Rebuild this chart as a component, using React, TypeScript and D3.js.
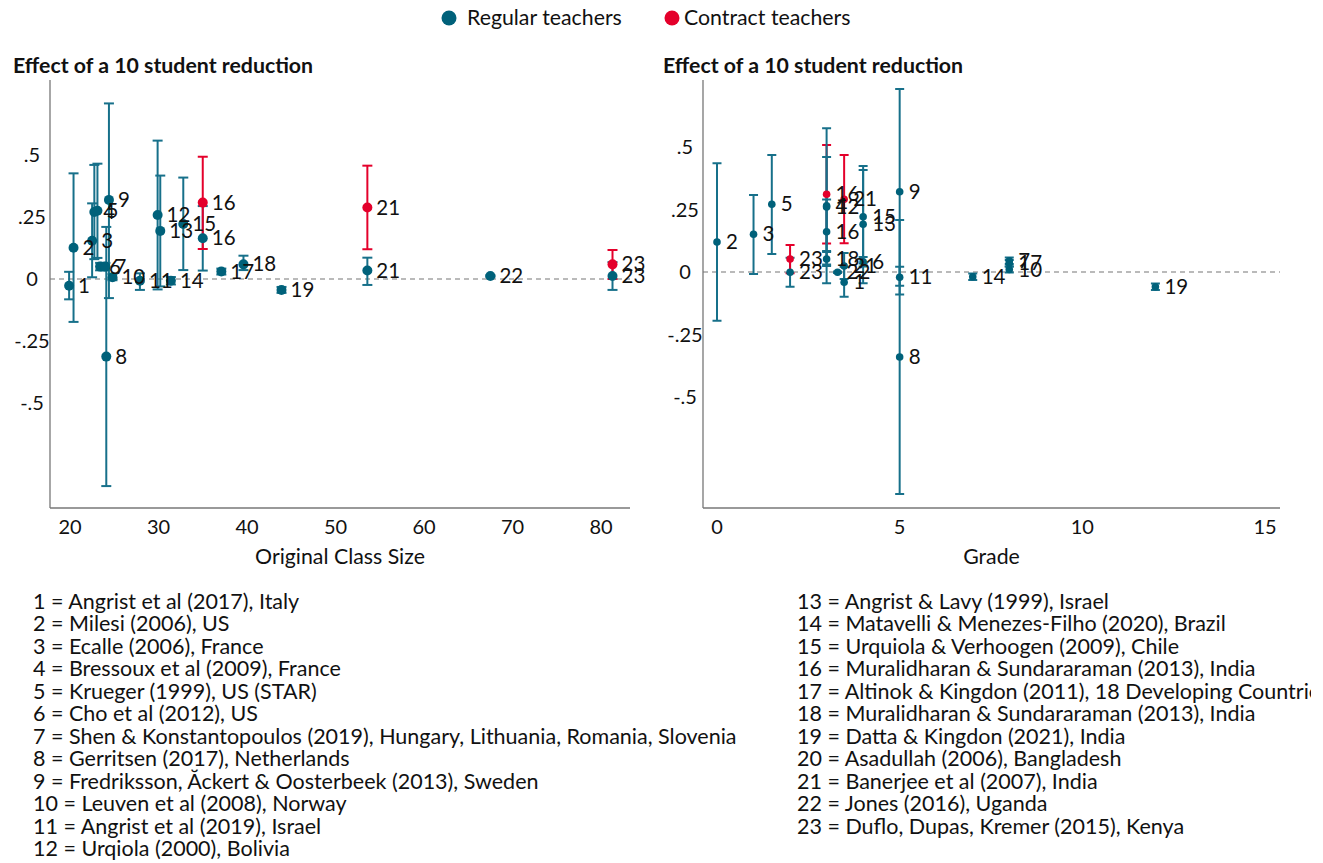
import React from "react";
import * as d3 from "d3";

// ---------- DATA ----------
// Left panel: effect vs original class size
const leftIds = ["1","2","3","4","5","6","7","8","9","10","11","12","13","14","15","16","16","17","18","19","21","21","22","23","23"];
const leftX = [19.9,20.4,22.5,22.75,23.1,23.4,24.0,24.1,24.4,24.8,27.9,29.9,30.2,31.4,32.8,35.0,35.0,37.1,39.6,43.9,53.6,53.6,67.5,81.3,81.3];
const leftY = [-0.027,0.126,0.154,0.27,0.275,0.05,0.05,-0.313,0.319,0.007,-0.007,0.258,0.194,-0.007,0.222,0.164,0.308,0.03,0.059,-0.044,0.034,0.288,0.012,0.012,0.059];
const leftLo = [-0.082,-0.173,0.007,0.08,0.085,0.035,0.035,-0.835,-0.077,-0.005,-0.044,-0.042,-0.03,-0.022,0.036,0.034,0.121,0.018,0.036,-0.056,-0.024,0.12,0.009,-0.044,0.0];
const leftHi = [0.029,0.426,0.305,0.46,0.465,0.065,0.065,0.21,0.708,0.02,0.023,0.558,0.417,0.008,0.409,0.294,0.493,0.042,0.094,-0.032,0.086,0.457,0.015,0.068,0.117];
const leftContract = [0,0,0,0,0,0,0,0,0,0,0,0,0,0,0,0,1,0,0,0,0,1,0,0,1];

// Right panel: effect vs grade
const rightIds = ["2","3","5","23","23","16","4","12","16","18","22","1","21","21","6","15","13","9","8","11","14","7","17","10","19"];
const rightX = [0,1,1.5,2,2,3,3,3,3,3,3.3,3.48,3.48,3.48,4.0,4.0,4.0,5,5,5,7,8,8,8,12];
const rightY = [0.12,0.151,0.271,-0.001,0.052,0.311,0.265,0.26,0.161,0.052,-0.001,-0.041,0.024,0.291,0.041,0.221,0.191,0.321,-0.34,-0.021,-0.019,0.045,0.035,0.01,-0.059];
const rightLo = [-0.195,-0.008,0.072,-0.059,-0.005,0.114,0.08,-0.045,0.03,0.024,-0.004,-0.099,-0.028,0.115,0.022,0.034,-0.045,-0.09,-0.888,-0.055,-0.032,0.032,0.022,-0.002,-0.072];
const rightHi = [0.435,0.308,0.468,0.057,0.108,0.508,0.46,0.575,0.29,0.084,0.002,0.021,0.076,0.468,0.06,0.408,0.424,0.732,0.208,0.021,-0.006,0.058,0.048,0.022,-0.046];
const rightContract = [0,0,0,0,1,1,0,0,0,0,0,0,0,1,0,0,0,0,0,0,0,0,0,0,0];

const yTickValues = [0.5, 0.25, 0, -0.25, -0.5];
const yTickLabels = [".5", ".25", "0", "-.25", "-.5"];
const leftXTicks = [20, 30, 40, 50, 60, 70, 80];
const rightXTicks = [0, 5, 10, 15];

const legendLabels = ["Regular teachers", "Contract teachers"];
const panelTitle = "Effect of a 10 student reduction";
const leftXTitle = "Original Class Size";
const rightXTitle = "Grade";

const notesLeft = [
  "1 = Angrist et al (2017), Italy",
  "2 = Milesi (2006), US",
  "3 = Ecalle (2006), France",
  "4 = Bressoux et al (2009), France",
  "5 = Krueger (1999), US (STAR)",
  "6 = Cho et al (2012), US",
  "7 = Shen & Konstantopoulos (2019), Hungary, Lithuania, Romania, Slovenia",
  "8 = Gerritsen (2017), Netherlands",
  "9 = Fredriksson, Ăckert & Oosterbeek (2013), Sweden",
  "10 = Leuven et al (2008), Norway",
  "11 = Angrist et al (2019), Israel",
  "12 = Urqiola (2000), Bolivia",
];
const notesRight = [
  "13 = Angrist & Lavy (1999), Israel",
  "14 = Matavelli & Menezes-Filho (2020), Brazil",
  "15 = Urquiola & Verhoogen (2009), Chile",
  "16 = Muralidharan & Sundararaman (2013), India",
  "17 = Altinok & Kingdon (2011), 18 Developing Countries",
  "18 = Muralidharan & Sundararaman (2013), India",
  "19 = Datta & Kingdon (2021), India",
  "20 = Asadullah (2006), Bangladesh",
  "21 = Banerjee et al (2007), India",
  "22 = Jones (2016), Uganda",
  "23 = Duflo, Dupas, Kremer (2015), Kenya",
];

// ---------- STYLE ----------
const TEAL = "#00617a";
const TEAL_BAR = "#17708a";
const RED = "#e4002b";
const FONT = "Lato, 'Noto Sans', sans-serif";
const TXT = 21.3;

type PanelProps = {
  ids: string[]; xs: number[]; ys: number[]; lo: number[]; hi: number[]; contract: number[];
  frame: { x0: number; x1: number; y0: number; y1: number };
  xScale: d3.ScaleLinear<number, number>;
  yScale: d3.ScaleLinear<number, number>;
  xTicks: number[]; xTitle: string; titleX: number;
  r: number; cap: number; labelDx: number;
};

function Panel(p: PanelProps) {
  const { frame, xScale, yScale } = p;
  const order = d3.range(p.ids.length);
  return (
    <g>
      <text x={p.titleX} y={73} fontFamily={FONT} fontWeight={700} fontSize={TXT} fill="#111">{panelTitle}</text>
      {/* axes */}
      <line x1={frame.x0} x2={frame.x0} y1={frame.y0} y2={frame.y1} stroke="#777" strokeWidth={1.3} />
      <line x1={frame.x0} x2={frame.x1} y1={frame.y1} y2={frame.y1} stroke="#777" strokeWidth={1.3} />
      {/* zero line */}
      <line x1={frame.x0} x2={frame.x1} y1={yScale(0)} y2={yScale(0)} stroke="#777" strokeWidth={1.2} strokeDasharray="5,4" />
      {yTickValues.map((v, i) => (
        <text key={"yt" + i} x={frame.x0 - 18} y={yScale(v) + 7} textAnchor="middle" fontFamily={FONT} fontSize={20} fill="#111">{yTickLabels[i]}</text>
      ))}
      {p.xTicks.map((v) => (
        <text key={"xt" + v} x={xScale(v)} y={534} textAnchor="middle" fontFamily={FONT} fontSize={20} fill="#111">{v}</text>
      ))}
      <text x={(frame.x0 + frame.x1) / 2} y={564} textAnchor="middle" fontFamily={FONT} fontSize={TXT} fill="#111">{p.xTitle}</text>
      {/* error bars */}
      {order.map((i) => {
        const c = p.contract[i] ? RED : TEAL_BAR;
        const cx = xScale(p.xs[i]);
        const yl = yScale(p.lo[i]);
        const yh = yScale(p.hi[i]);
        return (
          <g key={"eb" + i} stroke={c} strokeWidth={2}>
            <line x1={cx} x2={cx} y1={yl} y2={yh} />
            <line x1={cx - p.cap / 2} x2={cx + p.cap / 2} y1={yl} y2={yl} />
            <line x1={cx - p.cap / 2} x2={cx + p.cap / 2} y1={yh} y2={yh} />
          </g>
        );
      })}
      {order.map((i) => (
        <circle key={"pt" + i} cx={xScale(p.xs[i])} cy={yScale(p.ys[i])} r={p.r} fill={p.contract[i] ? RED : TEAL} />
      ))}
      {order.map((i) => (
        <text key={"lb" + i} x={xScale(p.xs[i]) + p.labelDx} y={yScale(p.ys[i]) + 7} fontFamily={FONT} fontSize={20.5} fill="#111">{p.ids[i]}</text>
      ))}
    </g>
  );
}

export default function App() {
  const xL = d3.scaleLinear().domain([20, 80]).range([70, 601]);
  const yL = d3.scaleLinear().domain([0, 0.5]).range([279, 155]);
  const xR = d3.scaleLinear().domain([0, 15]).range([717, 1265]);
  const yR = d3.scaleLinear().domain([0, 0.5]).range([272, 147]);
  const lineH = 22.45;
  return (
    <div style={{ position: "absolute", left: 0, top: 0, width: 1323, height: 863, background: "#fff" }}>
      <svg width={1323} height={863} style={{ display: "block" }}>
        <defs>
          <clipPath id="pageclip"><rect x={0} y={0} width={1311} height={863} /></clipPath>
        </defs>
        <rect width={1323} height={863} fill="#fff" />
        {/* legend */}
        <circle cx={449} cy={18} r={7.5} fill={TEAL} />
        <text x={467} y={25} fontFamily={FONT} fontSize={TXT} fill="#111">{legendLabels[0]}</text>
        <circle cx={672} cy={18} r={7.5} fill={RED} />
        <text x={684} y={25} fontFamily={FONT} fontSize={TXT} fill="#111">{legendLabels[1]}</text>

        <Panel ids={leftIds} xs={leftX} ys={leftY} lo={leftLo} hi={leftHi} contract={leftContract}
          frame={{ x0: 50, x1: 630, y0: 80, y1: 508 }} xScale={xL} yScale={yL}
          xTicks={leftXTicks} xTitle={leftXTitle} titleX={13} r={5} cap={10} labelDx={9} />
        <Panel ids={rightIds} xs={rightX} ys={rightY} lo={rightLo} hi={rightHi} contract={rightContract}
          frame={{ x0: 703, x1: 1280, y0: 80, y1: 508 }} xScale={xR} yScale={yR}
          xTicks={rightXTicks} xTitle={rightXTitle} titleX={663} r={3.8} cap={9} labelDx={9} />

        <g clipPath="url(#pageclip)">
          {notesLeft.map((t, i) => (
            <text key={"nl" + i} x={33} y={609 + i * lineH} fontFamily={FONT} fontSize={21.5} fill="#111">{t}</text>
          ))}
          {notesRight.map((t, i) => (
            <text key={"nr" + i} x={797} y={609 + i * lineH} fontFamily={FONT} fontSize={21.5} fill="#111">{t}</text>
          ))}
        </g>
      </svg>
    </div>
  );
}
